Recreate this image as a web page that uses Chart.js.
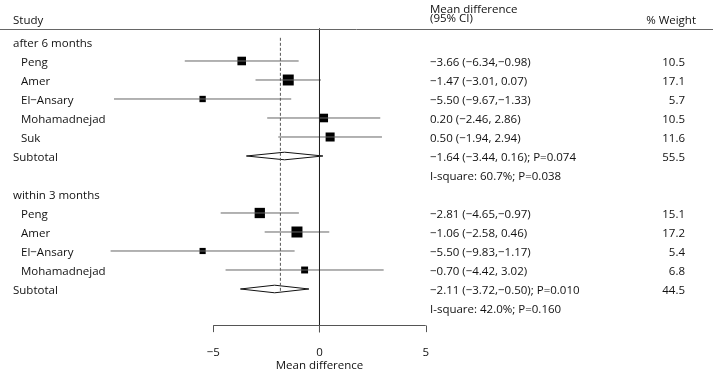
<!DOCTYPE html>
<html>
<head>
<meta charset="utf-8">
<script src="https://cdn.jsdelivr.net/npm/chart.js@4.4.1/dist/chart.umd.min.js"></script>
<style>
  html, body { margin: 0; padding: 0; background: #fff; }
  #wrap { width: 713px; height: 371px; position: relative; }
</style>
</head>
<body>
<div id="wrap"><canvas id="forest"></canvas></div>
<script>
// ── DATA ──
const groupNames  = ['after 6 months', 'within 3 months'];
const groupRows   = [1, 9];

const studyNames  = ['Peng', 'Amer', 'El\u2212Ansary', 'Mohamadnejad', 'Suk',
                     'Peng', 'Amer', 'El\u2212Ansary', 'Mohamadnejad'];
const studyRows   = [2, 3, 4, 5, 6, 10, 11, 12, 13];
const studyMd     = [-3.66, -1.47, -5.50, 0.20, 0.50, -2.81, -1.06, -5.50, -0.70];
const studyLo     = [-6.34, -3.01, -9.67, -2.46, -1.94, -4.65, -2.58, -9.83, -4.42];
const studyHi     = [-0.98, 0.07, -1.33, 2.86, 2.94, -0.97, 0.46, -1.17, 3.02];
const studyWeight = [10.5, 17.1, 5.7, 10.5, 11.6, 15.1, 17.2, 5.4, 6.8];

const subRows     = [7, 14];
const subMd       = [-1.64, -2.11];
const subLo       = [-3.44, -3.72];
const subHi       = [0.16, -0.50];
const subWeight   = [55.5, 44.5];
const subP        = ['0.074', '0.010'];
const iSquare     = ['60.7%', '42.0%'];
const iSquareP    = ['0.038', '0.160'];

const overallMd   = -1.84;
const xTicks      = [-5, 0, 5];

// ── STYLE ──
const FONT = "'Open Sans', sans-serif";
const TXT  = '#111111';
const GREY = '#666666';

const fmt = v => v.toFixed(2).replace('-', '\u2212');
const ciText = (m, l, h) => `${fmt(m)} (${fmt(l)},${h < 0 ? '' : ' '}${fmt(h)})`;

// row layout (y scale units)
const ROW_HEADER = -0.2, ROW_HLINE = 0.3, ROW_AXIS = 15.9, ROW_TICK = 16.27;

// ── DATASETS ──
const datasets = [];

// zero line
datasets.push({
  data: [{ x: 0, y: ROW_HLINE }, { x: 0, y: ROW_TICK }],
  showLine: true, borderColor: '#222', borderWidth: 1, pointRadius: 0
});
// overall dashed line
datasets.push({
  data: [{ x: overallMd, y: 0.78 }, { x: overallMd, y: 14.2 }],
  showLine: true, borderColor: '#555', borderWidth: 1, borderDash: [3, 2], pointRadius: 0
});
// confidence intervals
studyRows.forEach((r, i) => {
  datasets.push({
    data: [{ x: studyLo[i], y: r }, { x: studyHi[i], y: r }],
    showLine: true, borderColor: GREY, borderWidth: 1, pointRadius: 0
  });
});
// subtotal diamonds
subRows.forEach((r, i) => {
  const h = 0.2;
  datasets.push({
    data: [
      { x: subLo[i], y: r }, { x: subMd[i], y: r - h },
      { x: subHi[i], y: r }, { x: subMd[i], y: r + h }, { x: subLo[i], y: r }
    ],
    showLine: true, borderColor: '#111', borderWidth: 1, pointRadius: 0, tension: 0
  });
});
// study squares (area ~ weight)
datasets.push({
  data: studyRows.map((r, i) => ({ x: studyMd[i], y: r })),
  pointStyle: 'rect',
  pointRadius: studyWeight.map(w => 2.65 * Math.sqrt(w) / Math.SQRT2),
  backgroundColor: '#000', borderWidth: 0, showLine: false
});

// ── TEXT + AXIS PLUGIN ──
const forestText = {
  id: 'forestText',
  afterDraw(chart) {
    const { ctx, scales: { x, y } } = chart;
    const T = v => y.getPixelForValue(v) + 1.5;   // text centre for a row
    const X = v => x.getPixelForValue(v);
    const colCI = 430, colW = 685;

    ctx.save();
    ctx.font = `11.5px ${FONT}`;
    ctx.fillStyle = TXT;
    ctx.textBaseline = 'middle';

    // header
    ctx.textAlign = 'left';
    ctx.fillText('Study', 13, T(ROW_HEADER));
    ctx.fillText('Mean difference', colCI, T(-0.8));
    ctx.fillText('(95% CI)', colCI, T(-0.33));
    ctx.textAlign = 'right';
    ctx.fillText('% Weight', 696, T(ROW_HEADER));

    // header rule
    const hy = Math.round(y.getPixelForValue(ROW_HLINE)) + 0.5;
    ctx.strokeStyle = GREY;
    ctx.lineWidth = 1;
    ctx.beginPath();
    ctx.moveTo(0, hy);
    ctx.lineTo(chart.width, hy);
    ctx.stroke();

    // groups
    ctx.textAlign = 'left';
    groupNames.forEach((g, i) => ctx.fillText(g, 13, T(groupRows[i])));

    // studies
    studyRows.forEach((r, i) => {
      ctx.textAlign = 'left';
      ctx.fillText(studyNames[i], 21, T(r));
      ctx.fillText(ciText(studyMd[i], studyLo[i], studyHi[i]), colCI, T(r));
      ctx.textAlign = 'right';
      ctx.fillText(studyWeight[i].toFixed(1), colW, T(r));
    });

    // subtotals
    subRows.forEach((r, i) => {
      ctx.textAlign = 'left';
      ctx.fillText('Subtotal', 13, T(r));
      ctx.fillText(`${ciText(subMd[i], subLo[i], subHi[i])}; P=${subP[i]}`, colCI, T(r));
      ctx.fillText(`I-square: ${iSquare[i]}; P=${iSquareP[i]}`, colCI, T(r + 1));
      ctx.textAlign = 'right';
      ctx.fillText(subWeight[i].toFixed(1), colW, T(r));
    });

    // bottom axis
    const ay = Math.round(y.getPixelForValue(ROW_AXIS)) + 0.5;
    ctx.strokeStyle = '#555';
    ctx.beginPath();
    ctx.moveTo(X(xTicks[0]), ay);
    ctx.lineTo(X(xTicks[xTicks.length - 1]), ay);
    xTicks.forEach(t => {
      const px = Math.round(X(t)) + 0.5;
      ctx.moveTo(px, ay);
      ctx.lineTo(px, y.getPixelForValue(ROW_TICK));
    });
    ctx.stroke();

    ctx.textAlign = 'center';
    xTicks.forEach(t => ctx.fillText(String(t).replace('-', '\u2212'), X(t), T(17.3)));
    ctx.fillText('Mean difference', X(0), T(17.95));
    ctx.restore();
  }
};

new Chart(document.getElementById('forest'), {
  type: 'scatter',
  data: { datasets },
  options: {
    responsive: true,
    maintainAspectRatio: false,
    animation: false,
    events: [],
    layout: { padding: 0, autoPadding: false },
    plugins: { legend: { display: false }, tooltip: { enabled: false } },
    scales: {
      x: { type: 'linear', display: false, min: -15.035, max: 18.518 },
      y: { type: 'linear', display: false, reverse: true, min: -1.2105, max: 18.316 }
    }
  },
  plugins: [forestText]
});
</script>
</body>
</html>
